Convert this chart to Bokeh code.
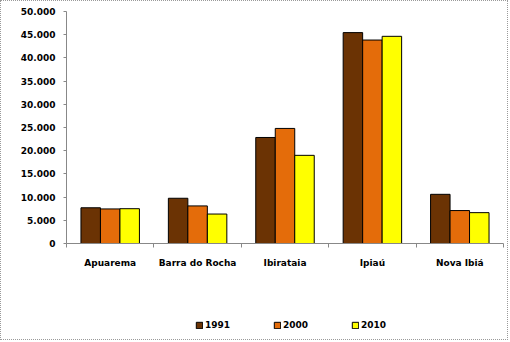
import numpy as np
from bokeh.plotting import figure
from bokeh.layouts import column
from bokeh.models import FixedTicker, Legend, LegendItem, Range1d
from bokeh.embed import file_html
from bokeh.resources import INLINE

categories = ["Apuarema", "Barra do Rocha", "Ibirataia", "Ipiaú", "Nova Ibiá"]
years = ["1991", "2000", "2010"]
v1991 = [7700, 9750, 22850, 45450, 10600]
v2000 = [7450, 8100, 24800, 43850, 7100]
v2010 = [7500, 6350, 19000, 44650, 6650]
colors = ["#6B3304", "#E46C0A", "#FFFF00"]
yticks = list(range(0, 50001, 5000))

FONT = "DejaVu Sans"

p = figure(width=506, height=298, output_backend="svg", toolbar_location=None,
           x_range=Range1d(0, len(categories)), y_range=Range1d(0, 50000))
p.min_border_left = 65
p.min_border_right = 4
p.min_border_top = 10
p.min_border_bottom = 56
p.outline_line_color = None
p.xgrid.grid_line_color = None
p.ygrid.grid_line_color = None

xc = np.arange(len(categories)) + 0.5
bw = 0.223
series = [v1991, v2000, v2010]
for i, col in enumerate(colors):
    p.vbar(x=xc + (i - 1) * bw, width=bw, top=series[i], bottom=0,
           fill_color=col, line_color="black", line_width=1)

# x axis
xa = p.xaxis[0]
xa.ticker = FixedTicker(ticks=list(xc), minor_ticks=list(range(len(categories) + 1)))
xa.major_label_overrides = {float(x): c for x, c in zip(xc, categories)}
xa.major_tick_line_color = None
xa.major_tick_out = 0
xa.major_tick_in = 0
xa.minor_tick_out = 4
xa.minor_tick_in = 0
xa.minor_tick_line_color = "#888888"
xa.axis_line_color = "#888888"
xa.major_label_standoff = 10
xa.major_label_text_font = FONT
xa.major_label_text_font_style = "bold"
xa.major_label_text_font_size = "9px"
xa.major_label_text_color = "black"

# y axis
ya = p.yaxis[0]
ya.ticker = FixedTicker(ticks=yticks, minor_ticks=[])
ya.major_label_overrides = {t: f"{t:,}".replace(",", ".") for t in yticks}
ya.major_tick_out = 3
ya.major_tick_in = 0
ya.minor_tick_line_color = None
ya.major_tick_line_color = "#888888"
ya.axis_line_color = "#888888"
ya.major_label_standoff = 8
ya.major_label_text_font = FONT
ya.major_label_text_font_style = "bold"
ya.major_label_text_font_size = "9px"
ya.major_label_text_color = "black"

# legend strip
lg = figure(width=506, height=40, output_backend="svg", toolbar_location=None,
            x_range=Range1d(0, 1), y_range=Range1d(0, 1))
lg.min_border_left = 0
lg.min_border_right = 0
lg.min_border_top = 0
lg.min_border_bottom = 0
lg.axis.visible = False
lg.grid.visible = False
lg.outline_line_color = None
items = []
for yr, col in zip(years, colors):
    r = lg.vbar(x=[np.nan], width=0.1, top=[np.nan], bottom=0, fill_color=col,
                line_color="black", line_width=1)
    items.append(LegendItem(label=yr, renderers=[r]))

legend = Legend(items=items, orientation="horizontal", location=(129, 9))
legend.glyph_width = 8
legend.glyph_height = 8
legend.label_standoff = 2
legend.label_width = 50
legend.spacing = 18
legend.padding = 0
legend.margin = 0
legend.border_line_color = None
legend.background_fill_alpha = 0
legend.label_text_font = FONT
legend.label_text_font_style = "bold"
legend.label_text_font_size = "9px"
legend.label_text_color = "black"
lg.add_layout(legend, "center")

layout = column(p, lg, spacing=0)
layout.styles = {"border": "1px dotted #9a9a9a"}

open("out.html", "w").write(file_html(layout, INLINE))
